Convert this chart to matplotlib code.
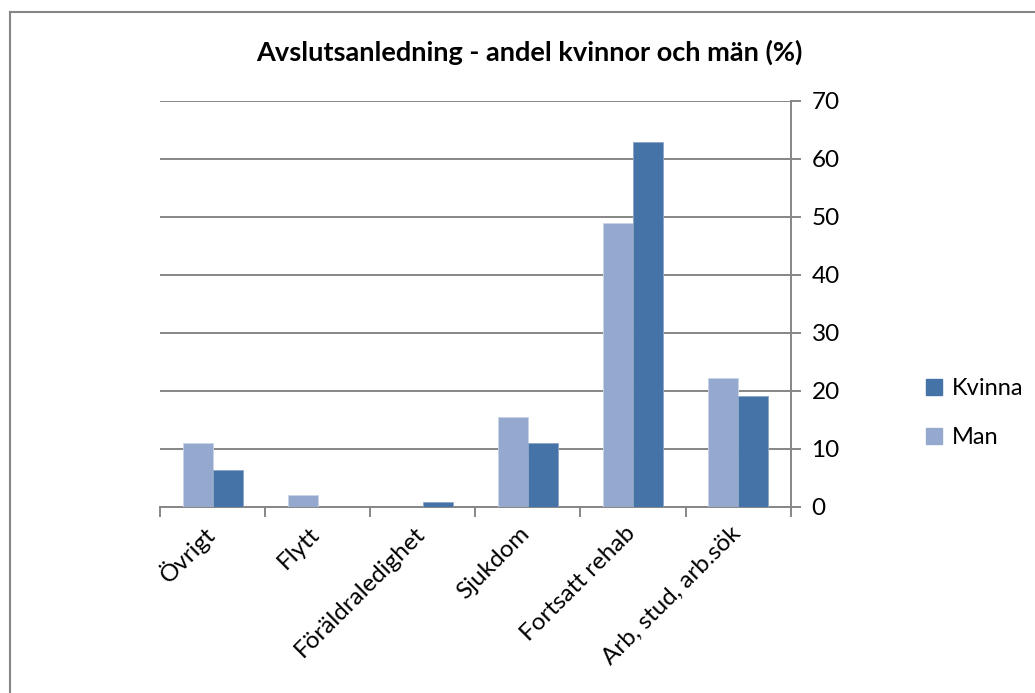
import matplotlib
matplotlib.use('Agg')
import matplotlib.pyplot as plt
import numpy as np
from matplotlib.lines import Line2D

plt.rcParams['font.family'] = ['Lato', 'DejaVu Sans']

# data
categories = ['Övrigt', 'Flytt', 'Föräldraledighet', 'Sjukdom', 'Fortsatt rehab', 'Arb, stud, arb.sök']
man = [11.0, 2.1, 0.0, 15.5, 48.9, 22.2]
kvinna = [6.3, 0.0, 0.8, 10.9, 62.8, 19.1]
yticks = [0, 10, 20, 30, 40, 50, 60, 70]

c_man = '#95a9cf'
c_kvinna = '#4573a7'
grid_c = '#868686'

fig = plt.figure(figsize=(10.35, 6.93), dpi=100)
ax = fig.add_axes([160 / 1035, 1 - 506.7 / 693, 630.7 / 1035, 406 / 693])

x = np.arange(len(categories))
w = 0.285
ax.bar(x - w / 2, man, w, color=c_man, edgecolor='#c9d4e8', linewidth=0.6, label='Man', zorder=3)
ax.bar(x + w / 2, kvinna, w, color=c_kvinna, edgecolor='#8ca6c8', linewidth=0.6, label='Kvinna', zorder=3)

ax.set_xlim(-0.5, len(categories) - 0.5)
ax.set_ylim(0, 70)
ax.set_yticks(yticks)
ax.yaxis.tick_right()
ax.yaxis.grid(True, color=grid_c, linewidth=1.4)
ax.set_axisbelow(True)
for s in ['left', 'top']:
    ax.spines[s].set_visible(False)
for s in ['right', 'bottom']:
    ax.spines[s].set_color(grid_c)
    ax.spines[s].set_linewidth(1.4)
ax.tick_params(axis='y', which='both', direction='out', length=7, width=1.4, color=grid_c,
               labelsize=17.5, pad=8, right=True, left=False)

# category ticks between groups
ax.set_xticks(np.arange(len(categories) + 1) - 0.5, minor=False)
ax.set_xticklabels([])
ax.tick_params(axis='x', direction='out', length=7, width=1.4, color=grid_c)
for i, name in enumerate(categories):
    ax.annotate(name, xy=(i, 0), xycoords=('data', 'axes fraction'),
                xytext=(-1, -17), textcoords='offset points',
                rotation=45, ha='right', va='center', rotation_mode='anchor', fontsize=17.5)

fig.text(529.5 / 1035, 1 - 52 / 693, 'Avslutsanledning - andel kvinnor och män (%)',
         fontsize=19.5, fontweight='bold', ha='center', va='center')

handles = [Line2D([], [], marker='s', linestyle='none', markersize=11, color=c_kvinna),
           Line2D([], [], marker='s', linestyle='none', markersize=11, color=c_man)]
fig.legend(handles, ['Kvinna', 'Man'], loc='center left', bbox_to_anchor=(912 / 1035, 1 - 413 / 693),
           frameon=False, fontsize=17, handlelength=0.9, handletextpad=0.3, labelspacing=1.2, borderpad=0)

# outer chart frame
fig.add_artist(Line2D([9.5 / 1035, 9.5 / 1035], [0, 1 - 11.5 / 693], color=grid_c, linewidth=1.5))
fig.add_artist(Line2D([9.5 / 1035, 1], [1 - 11.5 / 693, 1 - 11.5 / 693], color=grid_c, linewidth=1.5))

fig.savefig('out.png', dpi=100)
